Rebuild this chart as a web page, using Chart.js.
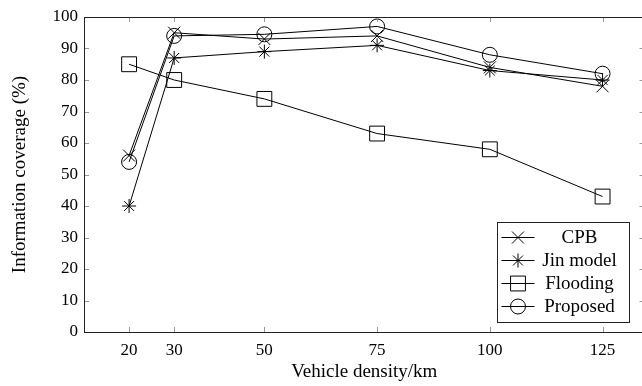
<!DOCTYPE html>
<html>
<head>
<meta charset="utf-8">
<script src="https://cdn.jsdelivr.net/npm/chart.js@4.4.1/dist/chart.umd.min.js"></script>
<style>
  html, body { margin: 0; padding: 0; overflow: hidden; background: #fff; }
</style>
</head>
<body>
<canvas id="chart" width="656" height="386"></canvas>
<script>
// valeurs
const densites = [20, 30, 50, 75, 100, 125];
const cpb = [56, 95, 93, 94, 84, 78];
const jinModel = [40, 87, 89, 91, 83, 80];
const flooding = [85, 80, 74, 63, 58, 43];
const proposed = [54, 94, 94.5, 97, 88, 82];
const yTicks = [0, 10, 20, 30, 40, 50, 60, 70, 80, 90, 100];

const police = "'Liberation Serif', 'DejaVu Serif', serif";

function points(valeurs) {
    return densites.map((x, i) => ({ x: x, y: valeurs[i] }));
}

function serie(label, valeurs, style, rayon) {
    return {
        label: label,
        data: points(valeurs),
        borderColor: '#000',
        borderWidth: 1,
        backgroundColor: 'transparent',
        pointStyle: style,
        pointRadius: rayon,
        pointBorderColor: '#000',
        pointBorderWidth: 1,
        pointBackgroundColor: 'transparent',
        tension: 0
    };
}

// cadre complet + graduations vers l'intérieur (style pgfplots)
const cadrePlugin = {
    id: 'cadre',
    afterDatasetsDraw(chart) {
        const ctx = chart.ctx;
        const a = chart.chartArea;
        const sx = chart.scales.x, sy = chart.scales.y;
        ctx.save();
        ctx.strokeStyle = '#999';
        ctx.lineWidth = 1;
        ctx.beginPath();
        densites.forEach(v => {
            const px = Math.round(sx.getPixelForValue(v)) + 0.5;
            ctx.moveTo(px, a.bottom); ctx.lineTo(px, a.bottom - 5);
            ctx.moveTo(px, a.top); ctx.lineTo(px, a.top + 5);
        });
        yTicks.forEach(v => {
            const py = Math.round(sy.getPixelForValue(v)) + 0.5;
            ctx.moveTo(a.left, py); ctx.lineTo(a.left + 5, py);
            ctx.moveTo(a.right, py); ctx.lineTo(a.right - 5, py);
        });
        ctx.stroke();
        ctx.strokeStyle = '#222';
        ctx.strokeRect(Math.round(a.left) + 0.5, Math.round(a.top) + 0.5,
                       Math.round(a.right - a.left), Math.round(a.bottom - a.top));
        ctx.restore();
    }
};

// légende dans le coin bas droit
const legendePlugin = {
    id: 'legende',
    afterDraw(chart) {
        const ctx = chart.ctx;
        const a = chart.chartArea;
        const w = 132, h = 100;
        const x0 = a.right - 16 - w, y0 = a.bottom - 10 - h;
        ctx.save();
        ctx.fillStyle = '#fff';
        ctx.fillRect(x0, y0, w, h);
        ctx.strokeStyle = '#222';
        ctx.lineWidth = 1;
        ctx.strokeRect(Math.round(x0) + 0.5, Math.round(y0) + 0.5, w, h);
        ctx.font = '19px ' + police;
        ctx.textAlign = 'center';
        ctx.textBaseline = 'middle';
        chart.data.datasets.forEach((ds, i) => {
            const cy = Math.round(y0 + 15 + i * 23) + 0.5;
            ctx.strokeStyle = '#000';
            ctx.beginPath();
            ctx.moveTo(x0 + 5, cy);
            ctx.lineTo(x0 + 38, cy);
            ctx.stroke();
            ctx.fillStyle = 'rgba(0,0,0,0)';
            Chart.helpers.drawPoint(ctx, {
                pointStyle: ds.pointStyle,
                radius: ds.pointRadius,
                rotation: 0,
                borderWidth: 1
            }, x0 + 21.5, cy);
            ctx.fillStyle = '#000';
            ctx.fillText(ds.label, x0 + 83, cy + 1);
        });
        ctx.restore();
    }
};

new Chart(document.getElementById('chart'), {
    type: 'line',
    data: {
        datasets: [
            serie('CPB', cpb, 'crossRot', 8.5),
            serie('Jin model', jinModel, 'star', 7),
            serie('Flooding', flooding, 'rect', 10.5),
            serie('Proposed', proposed, 'circle', 7.5)
        ]
    },
    options: {
        responsive: false,
        animation: false,
        layout: { padding: { top: 17, right: 2, left: 0, bottom: 0 } },
        plugins: {
            legend: { display: false },
            tooltip: { enabled: false }
        },
        scales: {
            x: {
                type: 'linear',
                min: 10,
                max: 134.3,
                afterBuildTicks: axe => { axe.ticks = densites.map(v => ({ value: v })); },
                afterFit: axe => {
                    axe.height = 54;
                    axe.paddingLeft = 0;
                    axe.paddingRight = 0;
                },
                grid: { display: false, drawTicks: false },
                border: { display: false },
                ticks: {
                    color: '#000',
                    font: { family: police, size: 17 },
                    padding: 8,
                    maxRotation: 0,
                    autoSkip: false
                },
                title: {
                    display: true,
                    text: 'Vehicle density/km',
                    color: '#000',
                    font: { family: police, size: 19 },
                    padding: { top: 0, bottom: 3 }
                }
            },
            y: {
                min: 0,
                max: 100,
                afterBuildTicks: axe => { axe.ticks = yTicks.map(v => ({ value: v })); },
                afterFit: axe => {
                    axe.width = 84;
                    axe.paddingTop = 0;
                    axe.paddingBottom = 0;
                },
                grid: { display: false, drawTicks: false },
                border: { display: false },
                ticks: {
                    color: '#000',
                    font: { family: police, size: 17 },
                    padding: 6
                },
                title: {
                    display: true,
                    text: 'Information coverage (%)',
                    color: '#000',
                    font: { family: police, size: 19 },
                    padding: { top: 9, bottom: 0 }
                }
            }
        }
    },
    plugins: [cadrePlugin, legendePlugin]
});
</script>
</body>
</html>
